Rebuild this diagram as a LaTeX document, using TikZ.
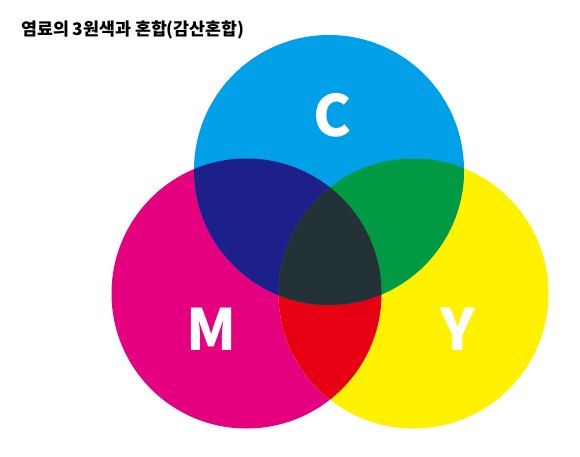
\documentclass[tikz,border=0pt]{standalone}
\usepackage{fontspec}
\newfontfamily\kofont{Noto Sans CJK KR}
\definecolor{cyanink}{HTML}{00A0E9}
\definecolor{magentaink}{HTML}{E4007F}
\definecolor{yellowink}{HTML}{FFF100}
\definecolor{blueink}{HTML}{1D2088}
\definecolor{greenink}{HTML}{009944}
\definecolor{redink}{HTML}{E60012}
\definecolor{blackink}{HTML}{233236}
\begin{document}
\begin{tikzpicture}[x=1pt,y=-1pt]
\begin{scope}
\tikzstyle{title} = [anchor=base west,inner sep=0pt,font=\kofont\bfseries\fontsize{17.3}{17.3}\selectfont]
\tikzstyle{letter} = [anchor=center,inner sep=0pt,text=white,font=\kofont\bfseries\fontsize{57}{57}\selectfont]

\useasboundingbox (0,0) rectangle (580,457);

\node [title] (head) at (21,35.5) {염료의 3원색과 혼합(감산혼합)};

\coordinate (c) at (329,170);
\coordinate (m) at (246.5,293.5);
\coordinate (y) at (413.5,293.5);

%single inks
\fill [magentaink] (m) circle (135pt);
\fill [yellowink] (y) circle (135pt);
\fill [cyanink] (c) circle (135pt);

%two inks
\begin{scope}
\clip (m) circle (135pt);
\fill [redink] (y) circle (135pt);
\end{scope}
\begin{scope}
\clip (c) circle (135pt);
\fill [blueink] (m) circle (135pt);
\fill [greenink] (y) circle (135pt);
\end{scope}

%three inks
\begin{scope}
\clip (c) circle (135pt);
\clip (m) circle (135pt);
\fill [blackink] (y) circle (135pt);
\end{scope}

\node [letter] (cl) at ([xshift=4pt,yshift=55pt]c) {C};
\node [letter] (ml) at ([xshift=-35.5pt,yshift=-35.5pt]m) {M};
\node [letter] (yl) at ([xshift=44.5pt,yshift=-35.5pt]y) {Y};
\end{scope}
\end{tikzpicture}
\end{document}
